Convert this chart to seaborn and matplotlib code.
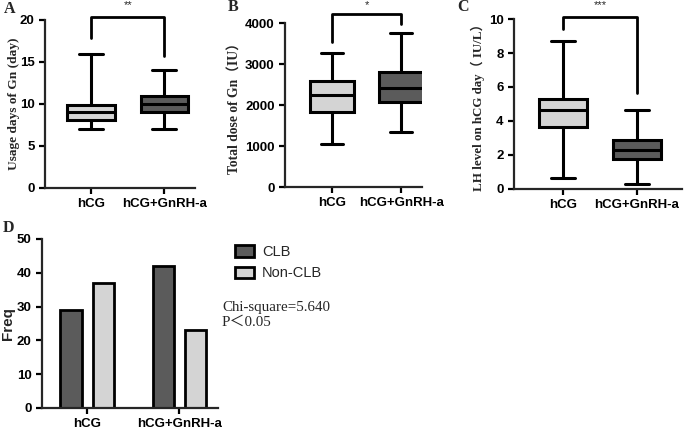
import numpy as np
import pandas as pd
import seaborn as sns
import matplotlib.pyplot as plt
import matplotlib.transforms as mtransforms

# groups and box summaries [min, q1, median, q3, max]
groups = ["hCG", "hCG+GnRH-a"]
gn_days_hcg = [7.0, 8.1, 9.0, 9.9, 16.0]
gn_days_gnrh = [7.0, 9.1, 10.0, 10.9, 14.0]
gn_dose_hcg = [1045, 1822, 2243, 2583, 3271]
gn_dose_gnrh = [1352, 2065, 2421, 2794, 3757]
lh_hcg = [0.63, 3.63, 4.62, 5.31, 8.73]
lh_gnrh = [0.29, 1.75, 2.29, 2.86, 4.65]

# bracket levels [left end, top, right end] and stars
bracket_a = [17.8, 20.3, 15.7]
bracket_b = [3540, 4230, 3980]
bracket_c = [9.4, 10.1, 5.67]
stars = ["**", "*", "***"]

# panel D counts
clb_types = ["CLB", "Non-CLB"]
clb_counts = [29, 42]
nonclb_counts = [37, 23]

LIGHT = "#d4d4d4"
DARK = "#5b5b5b"

sns.set_style("ticks")
plt.rcParams["font.family"] = ["Liberation Sans", "Noto Sans CJK SC", "DejaVu Sans"]
plt.rcParams["axes.linewidth"] = 1.6
plt.rcParams["xtick.major.width"] = 1.6
plt.rcParams["ytick.major.width"] = 1.6
plt.rcParams["xtick.major.size"] = 4
plt.rcParams["ytick.major.size"] = 4
plt.rcParams["xtick.color"] = "black"
plt.rcParams["ytick.color"] = "black"

SERIF = ["Liberation Serif", "Noto Sans CJK SC", "DejaVu Serif"]

fig = plt.figure(figsize=(6.85, 4.3), dpi=100)


def box_panel(rect, hcg, gnrh, ylim, yticks, xlim, ylabel, label_size,
              label_pad, bracket, star):
    ax = fig.add_axes(rect)
    df = pd.DataFrame({
        "group": [groups[0]] * len(hcg) + [groups[1]] * len(gnrh),
        "value": hcg + gnrh,
    })
    sns.boxplot(data=df, x="group", y="value", hue="group",
                palette={groups[0]: LIGHT, groups[1]: DARK},
                whis=(0, 100), width=0.65, linewidth=2.2,
                linecolor="black", showfliers=False, legend=False, ax=ax)
    ax.set_ylim(*ylim)
    ax.set_yticks(yticks)
    ax.set_xlim(*xlim)
    ax.set_xlabel("")
    ax.set_ylabel(ylabel, fontfamily=SERIF, fontweight="bold",
                  fontsize=label_size, labelpad=label_pad)
    for lbl in ax.get_xticklabels() + ax.get_yticklabels():
        lbl.set_fontweight("bold")
        lbl.set_fontsize(9.5)
    sns.despine(ax=ax)
    ax.plot([0, 0, 1, 1], [bracket[0], bracket[1], bracket[1], bracket[2]],
            color="black", lw=2, clip_on=False)
    trans = mtransforms.blended_transform_factory(ax.transData, fig.transFigure)
    ax.text(0.5, 1 - 0.5 / 430, star, ha="center", va="top",
            fontsize=8, transform=trans, clip_on=False)
    return ax


ax_a = box_panel([0.0657, 0.5628, 0.219, 0.3907], gn_days_hcg, gn_days_gnrh,
                 (0, 20), [0, 5, 10, 15, 20], (-0.63, 1.42),
                 "Usage days of Gn (day)", 9.6, 0, bracket_a, stars[0])
ax_b = box_panel([0.416, 0.5651, 0.2, 0.3814], gn_dose_hcg, gn_dose_gnrh,
                 (0, 4000), [0, 1000, 2000, 3000, 4000], (-0.68, 1.30),
                 "Total dose of Gn\uff08IU\uff09", 9.8, 2, bracket_b, stars[1])
ax_c = box_panel([0.7504, 0.5605, 0.2453, 0.3953], lh_hcg, lh_gnrh,
                 (0, 10), [0, 2, 4, 6, 8, 10], (-0.66, 1.61),
                 "LH level on hCG day\uff08 IU/L\uff09", 9.4, 3,
                 bracket_c, stars[2])

# panel D
ax_d = fig.add_axes([0.0613, 0.0512, 0.257, 0.393])
df_d = pd.DataFrame({
    "group": groups * 2,
    "type": [clb_types[0]] * 2 + [clb_types[1]] * 2,
    "freq": clb_counts + nonclb_counts,
})
sns.barplot(data=df_d, x="group", y="freq", hue="type",
            palette={clb_types[0]: DARK, clb_types[1]: LIGHT},
            width=0.7, gap=0.34, edgecolor="black", linewidth=2,
            ax=ax_d)
ax_d.set_ylim(0, 50)
ax_d.set_yticks([0, 10, 20, 30, 40, 50])
ax_d.set_xlim(-0.49, 1.42)
ax_d.set_xlabel("")
ax_d.set_ylabel("Freq", fontweight="bold", fontsize=11, labelpad=1)
for lbl in ax_d.get_xticklabels() + ax_d.get_yticklabels():
    lbl.set_fontweight("bold")
    lbl.set_fontsize(9.5)
sns.despine(ax=ax_d)
handles, labels = ax_d.get_legend_handles_labels()
ax_d.get_legend().remove()
fig.legend(handles, labels, loc="upper left",
           bbox_to_anchor=(222 / 685, 1 - 232 / 430), frameon=False,
           fontsize=10.5, handlelength=1.3, handleheight=0.8,
           labelspacing=0.5, handletextpad=0.55)

fig.text(222 / 685, 1 - 307 / 430, "Chi-square=5.640", fontfamily=SERIF,
         fontsize=10.8, va="center")
fig.text(222 / 685, 1 - 322 / 430, "P\uff1c0.05", fontfamily=SERIF,
         fontsize=10.8, va="center")

# panel letters
for x, y, letter in [(4, 9, "A"), (228, 7, "B"), (457, 7, "C"), (3, 228, "D")]:
    fig.text(x / 685, 1 - y / 430, letter, fontfamily=SERIF,
             fontweight="bold", fontsize=11.5, va="center")

fig.savefig("out.png", dpi=100)
